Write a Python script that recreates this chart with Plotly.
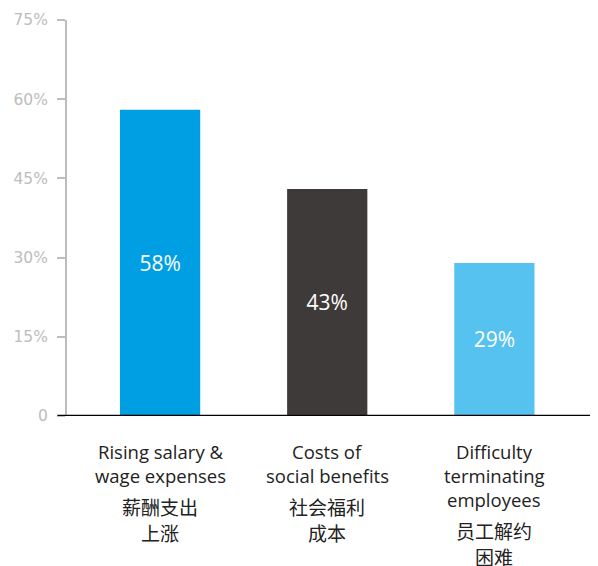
import plotly.graph_objects as go

categories_en = [["Rising salary &", "wage expenses"],
                 ["Costs of", "social benefits"],
                 ["Difficulty", "terminating", "employees"]]
categories_zh = [["薪酬支出", "上涨"], ["社会福利", "成本"], ["员工解约", "困难"]]
values = [58, 43, 29]
bar_colors = ["#009FE3", "#3E3A39", "#56C2F0"]
tick_vals = [0, 15, 30, 45, 60, 75]
tick_text = ["0", "15%", "30%", "45%", "60%", "75%"]

x_idx = list(range(len(values)))

fig = go.Figure()
fig.add_trace(go.Bar(
    x=x_idx, y=values,
    marker=dict(color=bar_colors, line=dict(width=0)),
    width=0.48,
    text=[f"{v}%" for v in values],
    textposition="inside",
    insidetextanchor="middle",
    textfont=dict(color="white", size=21, family="Open Sans"),
    hoverinfo="skip",
))

annotations = []
for i, (en_lines, zh_lines) in enumerate(zip(categories_en, categories_zh)):
    off = 35
    for line in en_lines:
        annotations.append(dict(
            x=i, y=0, xref="x", yref="paper", text=line, showarrow=False,
            xanchor="center", yanchor="middle", yshift=-off,
            font=dict(family="Open Sans", size=18.5, color="#222222"),
        ))
        off += 24
    off += 7
    for line in zh_lines:
        annotations.append(dict(
            x=i, y=0, xref="x", yref="paper", text=line, showarrow=False,
            xanchor="center", yanchor="middle", yshift=-off,
            font=dict(family="Noto Sans CJK SC", size=19, color="#222222"),
        ))
        off += 26

fig.update_layout(
    width=598, height=566,
    margin=dict(l=59, r=8, t=12, b=158, autoexpand=False),
    plot_bgcolor="white", paper_bgcolor="white",
    showlegend=False,
    annotations=annotations,
    xaxis=dict(range=[-0.557, 2.62], showticklabels=False, showgrid=False,
               zeroline=False, showline=False, ticks=""),
    yaxis=dict(range=[0, 75], tickvals=tick_vals, ticktext=tick_text,
               showgrid=False, zeroline=False, showline=True, linecolor="#BDBDBD",
               linewidth=2, ticks="outside", ticklen=8, tickwidth=2, tickcolor="#BDBDBD",
               tickfont=dict(family="DejaVu Sans", size=15.5, color="#BDBDBD"),
               ticklabelstandoff=6, automargin=False),
    shapes=[dict(type="line", xref="paper", yref="y", x0=-0.018, x1=1.02, y0=0, y1=0,
                 line=dict(color="black", width=2.5))],
)

fig.write_html("out.html")
